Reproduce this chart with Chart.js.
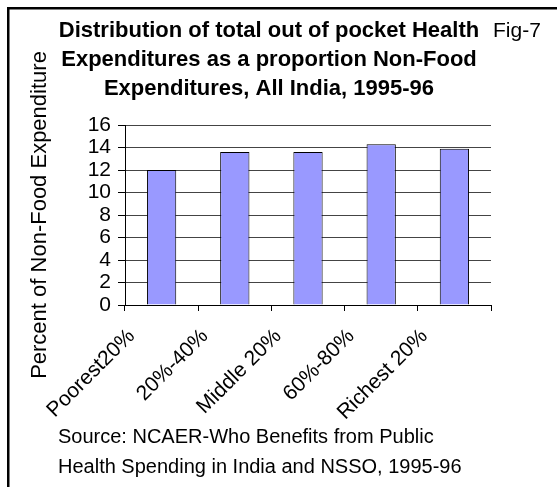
<!DOCTYPE html>
<html>
<head>
<meta charset="utf-8">
<script src="https://cdn.jsdelivr.net/npm/chart.js@4/dist/chart.umd.min.js"></script>
<style>
  html, body { margin: 0; padding: 0; background: #fff; }
  #wrap { width: 557px; height: 487px; }
</style>
</head>
<body>
<div id="wrap"><canvas id="fig7" width="557" height="487"></canvas></div>
<script>
// quintile groups and share of non-food spending going to health (%)
var groups = ['Poorest20%', '20%-40%', 'Middle 20%', '60%-80%', 'Richest 20%'];
var healthShare = [12.0, 13.6, 13.6, 14.3, 13.9];
var yTicks = [0, 2, 4, 6, 8, 10, 12, 14, 16];

var titleLines = [
    'Distribution of total out of pocket Health',
    'Expenditures as a proportion Non-Food',
    'Expenditures, All India, 1995-96'
];
var figLabel = 'Fig-7';
var sourceLines = [
    'Source: NCAER-Who Benefits from Public',
    'Health Spending in India and NSSO, 1995-96'
];
var yTitle = 'Percent of Non-Food Expenditure';

var FONT = "'Liberation Sans', Arial, Helvetica, sans-serif";
Chart.defaults.font.family = FONT;
Chart.defaults.color = '#000';

// frame, heading and source note are painted straight on the canvas
var notes = {
    id: 'notes',
    afterDraw: function(chart) {
        var c = chart.ctx;
        c.save();
        c.fillStyle = '#000';
        c.fillRect(7, 7, 550, 2.5);
        c.fillRect(7, 7, 2.5, 480);

        c.textBaseline = 'alphabetic';
        c.font = 'bold 22px ' + FONT;
        c.textAlign = 'center';
        var base = [37, 66, 95];
        for (var i = 0; i < titleLines.length; i++) {
            c.fillText(titleLines[i], 269, base[i]);
        }
        c.font = '21px ' + FONT;
        c.textAlign = 'left';
        c.fillText(figLabel, 493, 37);

        c.font = '20px ' + FONT;
        c.fillText(sourceLines[0], 58, 443);
        c.fillText(sourceLines[1], 58, 473);
        c.restore();
    }
};

var ctx = document.getElementById('fig7').getContext('2d');
var chart = new Chart(ctx, {
    type: 'bar',
    data: {
        labels: groups,
        datasets: [{
            label: 'Health share',
            data: healthShare,
            backgroundColor: '#9999ff',
            borderColor: '#000',
            borderWidth: 1,
            barPercentage: 0.4,
            categoryPercentage: 1.0
        }]
    },
    options: {
        responsive: false,
        animation: false,
        layout: {
            padding: { left: 10, right: 66, top: 125, bottom: 0 }
        },
        plugins: {
            legend: { display: false },
            tooltip: { enabled: false },
            title: { display: false }
        },
        scales: {
            x: {
                offset: true,
                afterFit: function(scale) { scale.height = 182; },
                border: { color: '#000', width: 1 },
                grid: {
                    offset: true,
                    drawOnChartArea: true,
                    color: function(c) {
                        return c.index === groups.length ? '#b4b4b4' : 'rgba(0,0,0,0)';
                    },
                    tickColor: '#000',
                    tickLength: 6
                },
                ticks: {
                    autoSkip: false,
                    minRotation: 45,
                    maxRotation: 45,
                    labelOffset: -30,
                    padding: 13,
                    font: { size: 21 }
                }
            },
            y: {
                min: 0,
                max: 16,
                afterFit: function(scale) { scale.width = 115; },
                afterBuildTicks: function(scale) {
                    scale.ticks = yTicks.map(function(v) { return { value: v }; });
                },
                border: { color: '#000', width: 1 },
                grid: {
                    color: '#444',
                    tickColor: '#000',
                    tickLength: 7
                },
                ticks: {
                    autoSkip: false,
                    padding: 7,
                    font: { size: 21, lineHeight: 1 }
                },
                title: {
                    display: true,
                    text: yTitle,
                    font: { size: 22 },
                    padding: { top: 17, bottom: 0 }
                }
            }
        }
    },
    plugins: [notes]
});
</script>
</body>
</html>
